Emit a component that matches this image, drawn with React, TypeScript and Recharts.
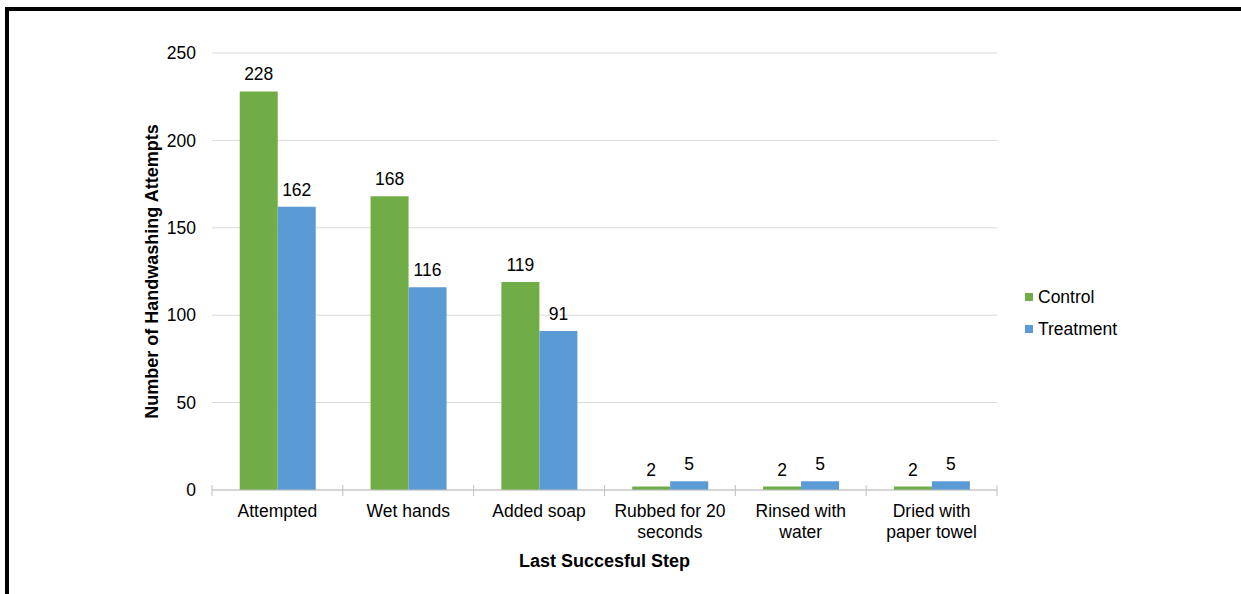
import { BarChart, Bar, XAxis, YAxis, CartesianGrid, Legend, LabelList } from 'recharts';

const categories = [
  'Attempted',
  'Wet hands',
  'Added soap',
  'Rubbed for 20 seconds',
  'Rinsed with water',
  'Dried with paper towel',
];
const tickLabels = [
  'Attempted',
  'Wet hands',
  'Added soap',
  'Rubbed for 20|seconds',
  'Rinsed with|water',
  'Dried with|paper towel',
];
const control = [228, 168, 119, 2, 2, 2];
const treatment = [162, 116, 91, 5, 5, 5];
const yTicks = [0, 50, 100, 150, 200, 250];

const data = categories.map((step, i) => ({
  step,
  Control: control[i],
  Treatment: treatment[i],
}));

const FONT = '"Liberation Sans", Arial, sans-serif';
const GREEN = '#70ad47';
const BLUE = '#5b9bd5';

function CategoryTick(props: any) {
  const { x, y, payload, index } = props;
  const half = payload?.offset ?? 785 / categories.length / 2;
  const lines = tickLabels[index].split('|');
  return (
    <g>
      <line x1={x - half} x2={x - half} y1={y - 5} y2={y + 6} stroke="#bfbfbf" />
      {index === categories.length - 1 && (
        <line x1={x + half} x2={x + half} y1={y - 5} y2={y + 6} stroke="#bfbfbf" />
      )}
      <text x={x} y={y + 27} textAnchor="middle" fill="#000" fontSize={17.5} fontFamily={FONT}>
        {lines.map((l, i) => (
          <tspan key={i} x={x} dy={i === 0 ? 0 : 21}>
            {l}
          </tspan>
        ))}
      </text>
    </g>
  );
}

function LegendContent() {
  const items = [
    { name: 'Control', color: GREEN },
    { name: 'Treatment', color: BLUE },
  ];
  return (
    <div>
      {items.map((it) => (
        <div
          key={it.name}
          style={{ display: 'flex', alignItems: 'center', height: 32, fontFamily: FONT, fontSize: 17.5, color: '#000' }}
        >
          <span style={{ display: 'inline-block', width: 8, height: 8, background: it.color, marginRight: 5 }} />
          {it.name}
        </div>
      ))}
    </div>
  );
}

export default function App() {
  return (
    <div style={{ position: 'absolute', left: 0, top: 0, width: 1241, height: 594, background: '#fff', overflow: 'hidden' }}>
      <div
        style={{
          position: 'absolute',
          left: 5,
          top: 7,
          right: -10,
          bottom: -10,
          borderTop: '4px solid #000',
          borderLeft: '4px solid #000',
        }}
      />
      <div style={{ position: 'absolute', left: 0, top: 0 }}>
        <BarChart
          width={1241}
          height={594}
          data={data}
          margin={{ top: 53, right: 244, left: 92, bottom: 0 }}
          barCategoryGap="21.2%"
          barGap={0}
        >
          <CartesianGrid vertical={false} stroke="#d9d9d9" />
          <XAxis
            dataKey="step"
            height={104}
            tickSize={0}
            tickMargin={0}
            axisLine={{ stroke: '#bfbfbf' }}
            tickLine={false}
            tick={<CategoryTick />}
            interval={0}
            label={{
              value: 'Last Succesful Step',
              position: 'insideBottom',
              offset: 27,
              fill: '#000',
              fontSize: 18,
              fontWeight: 'bold',
              fontFamily: FONT,
            }}
          />
          <YAxis
            width={120}
            domain={[0, 250]}
            ticks={yTicks}
            axisLine={false}
            tickLine={false}
            tickSize={6}
            tickMargin={10}
            tick={{ fill: '#000', fontSize: 17.5, fontFamily: FONT }}
            label={{
              value: 'Number of Handwashing Attempts',
              angle: -90,
              position: 'center',
              fill: '#000',
              fontSize: 18,
              fontWeight: 'bold',
              fontFamily: FONT,
            }}
          />
          <Legend
            layout="vertical"
            align="center"
            verticalAnchor="middle"
            verticalAlign="middle"
            content={<LegendContent />}
            wrapperStyle={{ left: 1025, top: 281, width: 140 }}
          />
          <Bar dataKey="Control" fill={GREEN} isAnimationActive={false}>
            <LabelList dataKey="Control" position="top" offset={11} fill="#000" fontSize={17.5} fontFamily={FONT} />
          </Bar>
          <Bar dataKey="Treatment" fill={BLUE} isAnimationActive={false}>
            <LabelList dataKey="Treatment" position="top" offset={11} fill="#000" fontSize={17.5} fontFamily={FONT} />
          </Bar>
        </BarChart>
      </div>
    </div>
  );
}
